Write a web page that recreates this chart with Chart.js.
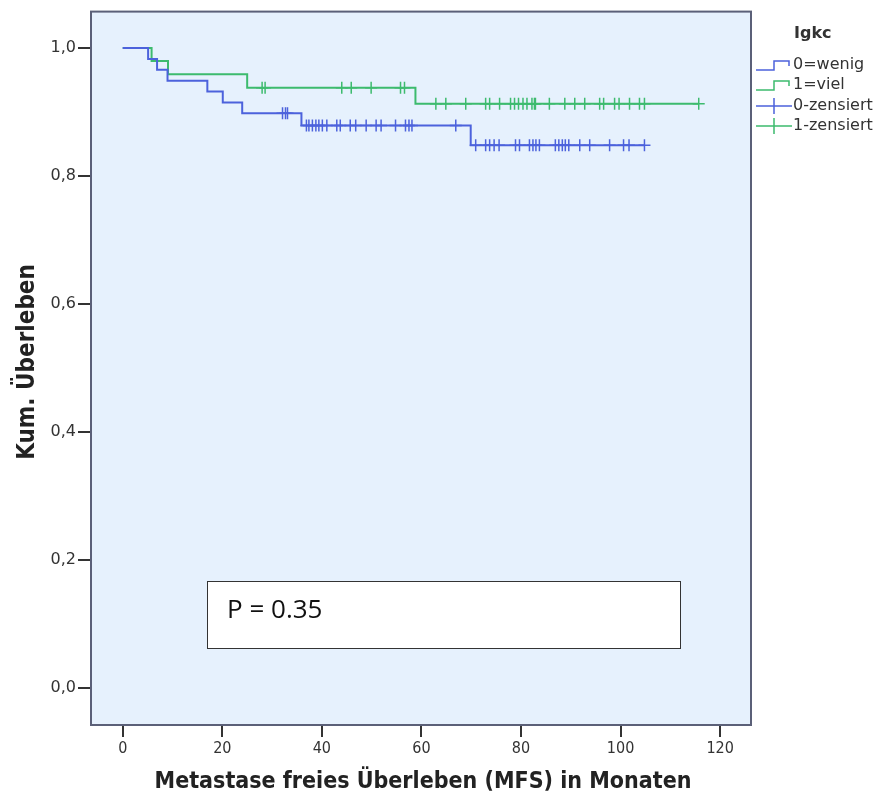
<!DOCTYPE html>
<html>
<head>
<meta charset="utf-8">
<script src="https://cdn.jsdelivr.net/npm/chart.js@4.4.1/dist/chart.umd.min.js"></script>
<style>
  html, body { margin: 0; padding: 0; background: #ffffff; }
  #wrap { width: 885px; height: 799px; }
</style>
</head>
<body>
<div id="wrap"><canvas id="kmChart" width="885" height="799"></canvas></div>
<script>
// Kaplan-Meier steps (time in months, cumulative survival)
var wenigTimes = [0, 5.1, 6.9, 9.0, 17.0, 20.1, 24.0, 35.9, 69.9];
var wenigSurv = [1.0, 0.983, 0.966, 0.949, 0.932, 0.915, 0.898, 0.879, 0.848];
var wenigCensored = [32.1, 32.7, 33.1, 36.9, 37.4, 38.1, 38.8, 39.4, 40.1, 41.0, 43.0, 43.7, 45.7, 46.8,
  48.9, 50.9, 51.9, 54.8, 56.8, 57.5, 58.1, 66.9, 70.9, 72.9, 73.7, 74.6, 75.6, 78.9, 79.7, 81.7,
  82.4, 83.0, 83.7, 86.9, 87.6, 88.3, 88.9, 89.6, 91.8, 93.8, 97.8, 100.6, 101.7, 104.8];

var vielTimes = [0, 5.8, 9.1, 25.0, 58.8];
var vielSurv = [1.0, 0.98, 0.959, 0.938, 0.913];
var vielCensored = [28.0, 28.6, 44.0, 45.9, 49.9, 55.8, 56.6, 62.9, 64.9, 68.9, 72.9, 73.7, 75.7, 77.9,
  78.7, 79.5, 80.4, 81.2, 82.2, 82.7, 82.9, 85.7, 88.8, 90.8, 92.8, 95.8, 96.6, 98.8, 99.7, 101.8,
  103.8, 104.8, 115.7];

var xTickValues = [0, 20, 40, 60, 80, 100, 120];
var yTickValues = [0, 0.2, 0.4, 0.6, 0.8, 1.0];
var groupLabels = ['0=wenig', '1=viel', '0-zensiert', '1-zensiert'];
var legendTitle = 'Igkc';
var pText = 'P = 0.35';

var blue = '#4c62dc';
var green = '#3dbb6e';

function survAt(times, surv, t) {
    var s = surv[0];
    for (var i = 0; i < times.length; i++) {
        if (times[i] <= t) s = surv[i];
    }
    return s;
}

function stepPoints(times, surv, censored) {
    var pts = [];
    for (var i = 0; i < times.length; i++) pts.push({ x: times[i], y: surv[i] });
    var last = censored[censored.length - 1];
    pts.push({ x: last, y: survAt(times, surv, last) });
    return pts;
}

function censorPoints(times, surv, censored) {
    return censored.map(function(t) { return { x: t, y: survAt(times, surv, t) }; });
}

var framePlugin = {
    id: 'frame',
    beforeDatasetsDraw: function(chart) {
        var ctx = chart.ctx, a = chart.chartArea;
        ctx.save();
        ctx.fillStyle = '#e6f1fd';
        ctx.fillRect(a.left, a.top, a.right - a.left, a.bottom - a.top);
        ctx.restore();
    },
    afterDraw: function(chart) {
        var ctx = chart.ctx, a = chart.chartArea;
        ctx.save();
        ctx.strokeStyle = '#5b6078';
        ctx.lineWidth = 2;
        ctx.strokeRect(a.left, a.top, a.right - a.left, a.bottom - a.top);

        // p-value box
        var bx = 207, by = 581, bw = 473, bh = 67;
        ctx.fillStyle = '#ffffff';
        ctx.fillRect(bx, by, bw, bh);
        ctx.strokeStyle = '#333333';
        ctx.lineWidth = 1;
        ctx.strokeRect(bx + 0.5, by + 0.5, bw, bh);
        ctx.fillStyle = '#111111';
        ctx.font = '26px "Open Sans", "Noto Sans", sans-serif';
        ctx.textAlign = 'left';
        ctx.textBaseline = 'middle';
        ctx.fillText(pText, 227, 611);

        // axis titles
        ctx.fillStyle = '#222222';
        ctx.font = 'bold 23px "Liberation Sans Narrow", "DejaVu Sans Condensed", sans-serif';
        ctx.textAlign = 'center';
        ctx.fillText('Metastase freies Überleben (MFS) in Monaten', 423, 782);
        ctx.save();
        ctx.translate(28, 362);
        ctx.rotate(-Math.PI / 2);
        ctx.font = 'bold 24px "Liberation Sans Narrow", "DejaVu Sans Condensed", sans-serif';
        ctx.fillText('Kum. Überleben', 0, 0);
        ctx.restore();

        // legend
        ctx.fillStyle = '#333333';
        ctx.font = 'bold 16px "DejaVu Sans", sans-serif';
        ctx.textAlign = 'left';
        ctx.fillText(legendTitle, 794, 34);
        var rows = [65, 85, 106, 126];
        var cols = [blue, green, blue, green];
        ctx.font = '16px "DejaVu Sans", sans-serif';
        for (var i = 0; i < 4; i++) {
            var y = rows[i];
            ctx.strokeStyle = cols[i];
            ctx.lineWidth = 1.5;
            ctx.beginPath();
            if (i < 2) {
                ctx.moveTo(756, y + 5);
                ctx.lineTo(774, y + 5);
                ctx.lineTo(774, y - 4);
                ctx.lineTo(789, y - 4);
                ctx.lineTo(789, y + 1);
            } else {
                ctx.moveTo(756, y);
                ctx.lineTo(792, y);
                ctx.moveTo(774, y - 8);
                ctx.lineTo(774, y + 8);
            }
            ctx.stroke();
            ctx.fillStyle = '#333333';
            ctx.fillText(groupLabels[i], 793, y);
        }
        ctx.restore();
    }
};

var ctx = document.getElementById('kmChart').getContext('2d');
var kmChart = new Chart(ctx, {
    type: 'line',
    data: {
        datasets: [{
            label: groupLabels[0],
            data: stepPoints(wenigTimes, wenigSurv, wenigCensored),
            borderColor: blue,
            borderWidth: 2,
            stepped: 'before',
            pointRadius: 0,
            fill: false
        }, {
            label: groupLabels[1],
            data: stepPoints(vielTimes, vielSurv, vielCensored),
            borderColor: green,
            borderWidth: 2,
            stepped: 'before',
            pointRadius: 0,
            fill: false
        }, {
            label: groupLabels[2],
            data: censorPoints(wenigTimes, wenigSurv, wenigCensored),
            showLine: false,
            pointStyle: 'cross',
            pointRadius: 6,
            pointBorderWidth: 1.5,
            borderColor: blue,
            backgroundColor: blue
        }, {
            label: groupLabels[3],
            data: censorPoints(vielTimes, vielSurv, vielCensored),
            showLine: false,
            pointStyle: 'cross',
            pointRadius: 6,
            pointBorderWidth: 1.5,
            borderColor: green,
            backgroundColor: green
        }]
    },
    options: {
        responsive: false,
        animation: false,
        layout: { padding: { top: 10, right: 134, left: 0, bottom: 0 } },
        plugins: {
            legend: { display: false },
            tooltip: { enabled: false }
        },
        elements: { point: { hoverRadius: 6 } },
        scales: {
            x: {
                type: 'linear',
                min: -6.37,
                max: 126.2,
                afterBuildTicks: function(scale) {
                    scale.ticks = xTickValues.map(function(v) { return { value: v }; });
                },
                afterFit: function(scale) { scale.height = 74; },
                grid: { drawOnChartArea: false, drawTicks: true, tickLength: 12, color: '#333333', lineWidth: 2 },
                border: { display: false },
                ticks: {
                    padding: 2,
                    color: '#333333',
                    font: { family: '"DejaVu Sans Condensed", "DejaVu Sans", sans-serif', size: 16 },
                    maxRotation: 0
                }
            },
            y: {
                type: 'linear',
                min: -0.0577,
                max: 1.057,
                afterBuildTicks: function(scale) {
                    scale.ticks = yTickValues.map(function(v) { return { value: v }; });
                },
                afterFit: function(scale) { scale.width = 91; },
                grid: { drawOnChartArea: false, drawTicks: true, tickLength: 13, color: '#333333', lineWidth: 2 },
                border: { display: false },
                ticks: {
                    padding: 2,
                    color: '#333333',
                    font: { family: '"DejaVu Sans", sans-serif', size: 16 },
                    callback: function(v) { return v.toFixed(1).replace('.', ','); }
                }
            }
        }
    },
    plugins: [framePlugin]
});
</script>
</body>
</html>
